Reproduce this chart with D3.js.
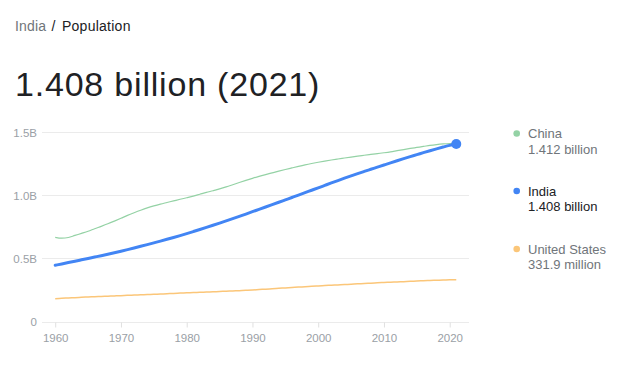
<!DOCTYPE html>
<html><head><meta charset="utf-8">
<script src="https://cdn.jsdelivr.net/npm/d3@7"></script>
<style>
body{margin:0;background:#fff;font-family:Arial,"Liberation Sans",sans-serif;}
svg{display:block;}
</style></head>
<body>
<svg id="c" width="626" height="381"></svg>
<script>
const years = d3.range(1960, 2022);
const china = [667.07,660.33,665.77,682.34,698.36,715.19,735.40,754.55,774.51,796.03,818.32,841.11,862.03,881.94,900.35,916.40,930.69,943.46,956.17,969.01,981.24,993.89,1008.63,1023.31,1036.83,1051.04,1066.79,1084.04,1101.63,1118.65,1135.19,1150.78,1164.97,1178.44,1191.84,1204.86,1217.55,1230.08,1241.94,1252.74,1262.65,1271.85,1280.40,1288.40,1296.08,1303.72,1311.02,1317.89,1324.66,1331.26,1337.71,1345.04,1354.19,1363.24,1371.86,1379.86,1387.79,1396.22,1402.76,1407.75,1411.10,1412.36];
const india = [445.95,456.35,467.02,477.93,489.06,500.11,510.99,521.99,533.43,545.31,557.50,569.99,582.84,596.11,609.72,623.52,637.45,651.69,666.27,681.25,696.83,712.87,729.17,745.83,762.90,780.24,797.88,815.72,833.73,851.79,870.45,888.94,907.57,926.35,945.26,964.28,983.28,1002.34,1021.43,1040.50,1059.63,1078.97,1098.31,1117.42,1136.26,1154.64,1172.37,1189.69,1206.73,1223.64,1240.61,1257.62,1274.49,1291.13,1307.25,1322.87,1338.64,1354.20,1369.00,1383.11,1396.39,1407.56];
const usa = [180.67,183.69,186.54,189.24,191.89,194.30,196.56,198.71,200.71,202.68,205.05,207.66,209.90,211.91,213.85,215.97,218.04,220.24,222.59,225.06,227.23,229.47,231.66,233.79,235.82,237.92,240.13,242.29,244.50,246.82,249.62,252.98,256.51,259.92,263.13,266.28,269.39,272.66,275.85,279.04,282.16,284.97,287.63,290.11,292.81,295.52,298.38,301.23,304.09,306.77,309.33,311.58,313.88,316.06,318.39,320.74,323.07,325.12,326.84,328.33,331.50,331.89];
const seriesNames = ["China","India","United States"];
const seriesLatest = ["1.412 billion","1.408 billion","331.9 million"];
const yTicks = [0, 500, 1000, 1500];
const yTickLabels = ["0","0.5B","1.0B","1.5B"];
const xTicks = [1960,1970,1980,1990,2000,2010,2020];

const svg = d3.select("#c");
const x = d3.scaleLinear().domain([1960, 2020]).range([55.2, 449.7]);
const y = d3.scaleLinear().domain([0, 1500]).range([321.5, 132.3]);
const gridX0 = 42, gridX1 = 469;

// grid
const yAxis = d3.axisLeft(y).tickValues(yTicks).tickFormat((d,i)=>yTickLabels[i]).tickSize(0).tickPadding(0);
const gy = svg.append("g").attr("transform","translate(37,0)").call(yAxis);
gy.select(".domain").remove();
gy.selectAll("text").attr("fill","#9aa0a6").style("font-size","11.5px").style("font-family","Arial,'Liberation Sans',sans-serif").attr("dy","0.35em");
svg.append("g").selectAll("line").data(yTicks).join("line")
  .attr("x1",gridX0).attr("x2",gridX1)
  .attr("y1",d=>Math.round(y(d))+0.5).attr("y2",d=>Math.round(y(d))+0.5)
  .attr("stroke","#ebebeb").attr("stroke-width",1);

const xAxis = d3.axisBottom(x).tickValues(xTicks).tickFormat(d3.format("d")).tickSize(5).tickPadding(6);
const gx = svg.append("g").attr("transform",`translate(0,${Math.round(y(0))+0.5})`).call(xAxis);
gx.select(".domain").remove();
gx.selectAll("line").attr("stroke","#e0e0e0");
gx.selectAll("text").attr("fill","#9aa0a6").style("font-size","11.5px").style("font-family","Arial,'Liberation Sans',sans-serif");

const line = d3.line().x((d,i)=>x(years[i])).y(d=>y(d)).curve(d3.curveMonotoneX);
svg.append("path").datum(usa).attr("d",line).attr("fill","none").attr("stroke","#fbc679").attr("stroke-width",1.5);
svg.append("path").datum(china).attr("d",line).attr("fill","none").attr("stroke","#94d2a5").attr("stroke-width",1.2);
svg.append("path").datum(india).attr("d",line).attr("fill","none").attr("stroke","#4285f4").attr("stroke-width",3).attr("stroke-linecap","round");
svg.append("circle").attr("cx",x(2021)).attr("cy",y(india[india.length-1])).attr("r",5).attr("fill","#4285f4");

// titles
svg.append("text").attr("x",15).attr("y",30.5).attr("fill","#70757a").style("font-size","14px").style("letter-spacing","0.2px").text("India");
svg.append("text").attr("x",51.5).attr("y",30.5).attr("fill","#202124").style("font-size","14px").text("/");
svg.append("text").attr("x",62).attr("y",30.5).attr("fill","#202124").style("font-size","14px").style("letter-spacing","0.25px").text("Population");
svg.append("text").attr("x",15).attr("y",95.5).attr("fill","#202124").style("font-size","34px").style("letter-spacing","0.8px").text("1.408 billion (2021)");

// legend
const legColors = ["#94d2a5","#4285f4","#fbc679"];
const legText = ["#70757a","#202124","#70757a"];
const legY = [133.5, 191, 249];
seriesNames.forEach((n,i)=>{
  svg.append("circle").attr("cx",516.7).attr("cy",legY[i]).attr("r",3.3).attr("fill",legColors[i]);
  svg.append("text").attr("x",528).attr("y",legY[i]+4.5).attr("fill",legText[i]).style("font-size","13px").text(n);
  svg.append("text").attr("x",528).attr("y",legY[i]+20).attr("fill",legText[i]).style("font-size","13px").text(seriesLatest[i]);
});
</script>
</body></html>
